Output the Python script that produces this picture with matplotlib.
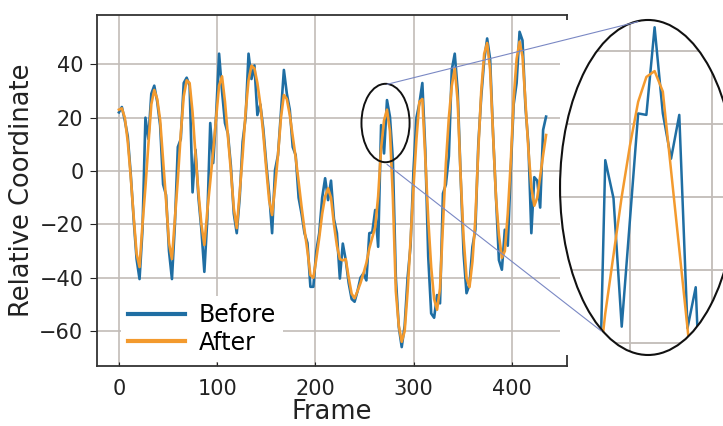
import numpy as np
import matplotlib
matplotlib.use("Agg")
import matplotlib.pyplot as plt
from matplotlib.patches import Ellipse, ConnectionPatch

plt.rcParams['font.family'] = ['DejaVu Sans']

frames = list(range(0, 436, 3))
after = [23, 23.5, 20, 11, -2, -17, -31, -36, -20, -6, 10, 25, 30.4, 27, 19, 4, -11, -27, -33,
         -18, -3, 14, 28, 34, 33, 22, 6, -8, -20, -27.7, -15, -4, 7.5, 20, 32, 35.5, 26, 13, 0,
         -14, -21.4, -8, 6, 22, 34, 39.5, 38.5, 33, 25, 14, 1, -11, -16.5, -6, 6, 20, 28.5, 27,
         21, 13, 5, -4, -13.4, -22, -30, -39, -40, -33, -25, -16, -9.5, -6.5, -10, -20, -28,
         -33, -33.5, -33, -40, -46, -47.7, -45, -42, -38.4, -34.5, -29, -25, -21, -9.5, 8.5, 19,
         23, 15, -10, -45, -58, -64, -60, -45, -26, -6, 12, 26, 27, 5, -18, -36, -48, -52, -44,
         -20, 3, 20, 32, 38.5, 26, -2, -25, -40, -43.5, -34, -18, 8, 30, 44, 48, 38, 14, -10,
         -24, -32.5, -30, -16, 3, 27, 42, 48.5, 43, 26, 8, -6, -13, -10, -2, 6, 13.5]
before = [22, 24, 19, 13, -1, -18, -33, -40.5, -22, 20, 12, 29, 32, 26, 17, -5, -9, -30, -40.5,
          -20, 9, 12, 33, 35, 32, -8, 8, -10, -22, -37.8, -18, 18, 3, 21, 44, 30, 18, 14, 2,
          -16, -23.3, -10, 11, 20, 44, 34.5, 39.6, 21, 25, 16, 3, -8.4, -23.3, 0.4, 6, 22, 37.9,
          29, 23, 9, 6, -10, -16, -23.3, -27, -43.4, -43.4, -30, -23.3, -10, -2.7, -10.9, -3.6,
          -18, -23.3, -40.3, -27.2, -33.4, -42, -48, -49, -45, -40, -38.4, -41, -23.3, -23,
          -14.6, -28.4, 17.2, 6.6, 26.6, 20.4, 4.1, -40, -58.4, -66, -58, -40, -28, 0.4, 20,
          25.4, 33, 8, -32.1, -53.4, -55, -46.5, -49.6, -8.4, -5, 5.6, 38, 44, 30, -2, -30.9,
          -45.8, -42.6, -28.4, -22, 10, 28, 41.6, 49.7, 42, 14, -10, -33.4, -37, -22, -28, 0,
          25, 33, 52.2, 49, 24, 10, -23.3, -2.3, -3.6, -13.7, 15.4, 20.4]

# zoomed inset, read frame by frame
zoom_frames = [265, 266, 267, 268, 269, 270, 271, 272, 273, 274, 275, 276, 277, 278, 279]
zoom_before = [-12, -6, 17.5, 14.9, 6.1, 13.4, 20.7, 20.6, 26.6, 20.7, 17.6, 20.6, 6.0, 8.8, -5]
zoom_after = [-2, 2, 7, 11, 15, 18.5, 21.5, 23.2, 23.6, 22.2, 16.8, 11.4, 6.0, 0.5, -5]

blue = '#1f6ea3'
orange = '#f39a2e'
gridc = '#c2bcb8'

fig = plt.figure(figsize=(7.23, 4.26), dpi=100)
ax = fig.add_axes([0.1346, 0.1408, 0.6492, 0.824])
ax.plot(frames, before, color=blue, lw=1.9, label='Before', zorder=3)
ax.plot(frames, after, color=orange, lw=1.9, label='After', zorder=4)
ax.set_xlim(-22, 456)
ax.set_ylim(-73.1, 58.5)
ax.set_xticks([0, 100, 200, 300, 400])
ax.set_yticks([-60, -40, -20, 0, 20, 40])
ax.grid(True, color=gridc, lw=1.2)
ax.set_axisbelow(True)
ax.tick_params(axis='y', direction='out', length=5, labelsize=15, colors='#222222', pad=5)
ax.tick_params(axis='x', direction='in', length=3, labelsize=15, colors='#222222', pad=9)
for s in ['left', 'bottom', 'top', 'right']:
    ax.spines[s].set_color('#333333')
    ax.spines[s].set_linewidth(1.3)
ax.set_xlabel('Frame', fontsize=18.5, color='#222222', labelpad=0)
ax.set_ylabel('Relative Coordinate', fontsize=18.5, color='#222222', labelpad=3)
leg = ax.legend(loc='lower left', bbox_to_anchor=(0.05, 0.012), fontsize=17, frameon=True,
                fancybox=False, framealpha=1, edgecolor='none', handlelength=2.4,
                borderpad=0.3, labelspacing=0.15, handletextpad=0.6, borderaxespad=0)
for h in leg.get_lines():
    h.set_linewidth(3)

# small ellipse around the zoomed peak
ax.add_patch(Ellipse((271.5, 18), 49, 29.4, fill=False, edgecolor='#111111', lw=1.4, zorder=6))

# inset
axins = fig.add_axes([0.7746, 0.1667, 0.2434, 0.7864])
axins.set_xlim(261.5, 282.9)
axins.set_ylim(4.16, 27.1)
axins.set_facecolor('white')
for s in axins.spines.values():
    s.set_visible(False)
axins.set_xticks([])
axins.set_yticks([])
oval = Ellipse((0.5, 0.5), 1.0, 1.0, transform=axins.transAxes, fill=False,
               edgecolor='#111111', lw=1.5, zorder=5, clip_on=False)
axins.add_patch(oval)
for gx in [270, 280]:
    g = axins.axvline(gx, color=gridc, lw=1.3, zorder=1)
    g.set_clip_path(oval)
for gy in [5, 10, 15, 20, 25]:
    g = axins.axhline(gy, color=gridc, lw=1.3, zorder=1)
    g.set_clip_path(oval)
lb, = axins.plot(zoom_frames, zoom_before, color=blue, lw=1.8, zorder=3)
la, = axins.plot(zoom_frames, zoom_after, color=orange, lw=1.8, zorder=4)
lb.set_clip_path(oval)
la.set_clip_path(oval)

# connector lines
for pa, pb in [((273, 32.5), (0.443, 0.995)), ((273, 2.5), (0.233, 0.072))]:
    con = ConnectionPatch(xyA=pa, coordsA='data', axesA=ax, xyB=pb, coordsB='axes fraction',
                          axesB=axins, color='#7a88c4', lw=0.8, zorder=10)
    fig.add_artist(con)

fig.savefig('out.png', dpi=100)
